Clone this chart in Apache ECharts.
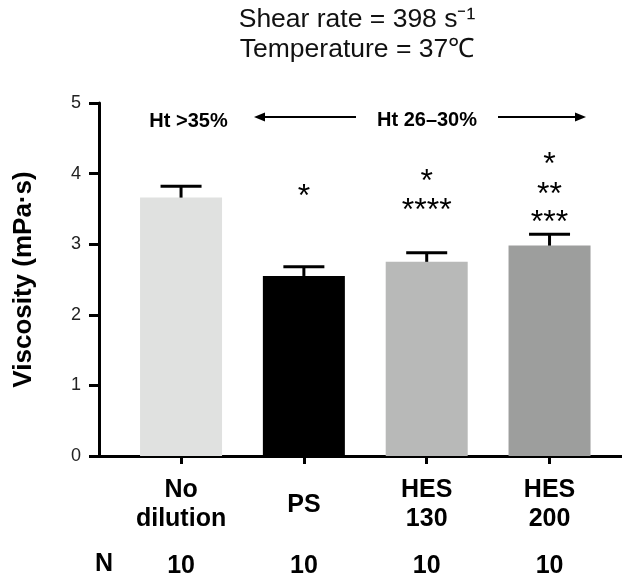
<!DOCTYPE html>
<html>
<head>
<meta charset="utf-8">
<script src="https://cdn.jsdelivr.net/npm/echarts@6/dist/echarts.min.js"></script>
<style>
html,body{margin:0;padding:0;background:#fff;}
#chart{width:622px;height:576px;}
</style>
</head>
<body>
<div id="chart"></div>
<script>
// ---- data ----
const categories = ['No\ndilution', 'PS', 'HES\n130', 'HES\n200'];
const means = [3.66, 2.55, 2.75, 2.98];
const sems = [0.16, 0.13, 0.13, 0.16];
const nValues = ['10', '10', '10', '10'];
const barColors = ['#e0e1e0', '#000000', '#b8b9b8', '#9d9e9d'];
const starTexts = [[], ['*'], ['*', '****'], ['*', '**', '***']];
const starLevels = [[], [3.76], [3.98, 3.57], [4.22, 3.80, 3.40]];
const titleLines = ['Shear rate = 398 s\u207B\u00B9', 'Temperature = 37\u2103'];
const htLabels = ['Ht >35%', 'Ht 26\u201330%'];
const yAxisName = 'Viscosity (mPa\u00B7s)';

const FONT = '"Liberation Sans", Arial, Helvetica, sans-serif';
const chart = echarts.init(document.getElementById('chart'), null, {renderer: 'canvas'});

const idx = categories.map((_, i) => i);
const barData = means.map((m, i) => ({value: [i, m], itemStyle: {color: barColors[i]}}));
const errData = means.map((m, i) => [i, m, m + sems[i]]);
const starData = [];
const starFlat = [];
starTexts.forEach((arr, i) => arr.forEach((t, j) => { starData.push([i, starLevels[i][j]]); starFlat.push(t); }));

const xMin = -0.668, xMax = 3.59;

const option = {
  animation: false,
  backgroundColor: '#fff',
  grid: {left: 99, right: 0, top: 103, bottom: 120, containLabel: false, outerBoundsMode: 'none'},
  xAxis: [{
    type: 'value', min: xMin, max: xMax,
    axisLine: {show: true, onZero: false, lineStyle: {color: '#000', width: 3}},
    axisTick: {show: true, customValues: idx, length: 8, lineStyle: {color: '#000', width: 3}},
    axisLabel: {
      show: true, customValues: idx, margin: 49, verticalAlign: 'middle',
      formatter: v => categories[Math.round(v)],
      fontFamily: FONT, fontSize: 25, fontWeight: 'bold', color: '#000', lineHeight: 29
    },
    splitLine: {show: false}
  }, {
    type: 'value', min: xMin, max: xMax, position: 'bottom', offset: 0,
    axisLine: {show: false, onZero: false}, axisTick: {show: false}, splitLine: {show: false},
    axisLabel: {
      show: true, customValues: idx, margin: 110, verticalAlign: 'middle',
      formatter: v => nValues[Math.round(v)],
      fontFamily: FONT, fontSize: 25, fontWeight: 'bold', color: '#000'
    }
  }],
  yAxis: {
    type: 'value', min: 0, max: 5, interval: 1,
    name: yAxisName, nameLocation: 'middle', nameGap: 62, nameRotate: 90,
    nameTextStyle: {fontFamily: FONT, fontSize: 26, fontWeight: 'bold', color: '#000'},
    axisLine: {show: true, onZero: false, lineStyle: {color: '#000', width: 3}},
    axisTick: {show: true, length: 10, lineStyle: {color: '#000', width: 3}},
    axisLabel: {margin: 18, fontFamily: FONT, fontSize: 18, color: '#222'},
    splitLine: {show: false}
  },
  series: [{
    type: 'bar', xAxisIndex: 0, data: barData, barWidth: 82, z: 2
  }, {
    type: 'custom', xAxisIndex: 0, data: errData, z: 3,
    renderItem: (params, api) => {
      const b = api.coord([api.value(0), api.value(1)]);
      const t = api.coord([api.value(0), api.value(2)]);
      const hw = 20.5;
      return {
        type: 'group',
        children: [
          {type: 'line', shape: {x1: b[0], y1: b[1], x2: t[0], y2: t[1]}, style: {stroke: '#000', lineWidth: 3}},
          {type: 'line', shape: {x1: t[0] - hw, y1: t[1], x2: t[0] + hw, y2: t[1]}, style: {stroke: '#000', lineWidth: 3}}
        ]
      };
    }
  }, {
    type: 'custom', xAxisIndex: 0, data: starData, z: 4,
    renderItem: (params, api) => {
      const p = api.coord([api.value(0), api.value(1)]);
      return {
        type: 'text', x: p[0], y: p[1] + 7,
        style: {text: starFlat[params.dataIndex], font: '32px ' + FONT, fill: '#000', align: 'center', verticalAlign: 'middle'}
      };
    }
  }],
  graphic: [
    {type: 'text', x: 357, y: 20, style: {text: titleLines[0], font: '26.5px ' + FONT, fill: '#111', align: 'center', verticalAlign: 'middle'}},
    {type: 'text', x: 357, y: 50, style: {text: titleLines[1], font: '26.5px ' + FONT, fill: '#111', align: 'center', verticalAlign: 'middle'}},
    {type: 'text', left: 95, top: 552, style: {text: 'N', font: 'bold 25px ' + FONT, fill: '#000'}},
    {type: 'text', x: 188.5, y: 121, style: {text: htLabels[0], font: 'bold 20px ' + FONT, fill: '#000', align: 'center', verticalAlign: 'middle'}},
    {type: 'text', x: 427, y: 120, style: {text: htLabels[1], font: 'bold 20px ' + FONT, fill: '#000', align: 'center', verticalAlign: 'middle'}},
    {type: 'line', shape: {x1: 262, y1: 117, x2: 356, y2: 117}, style: {stroke: '#000', lineWidth: 2}},
    {type: 'polygon', shape: {points: [[254, 117], [265, 112.5], [265, 121.5]]}, style: {fill: '#000'}},
    {type: 'line', shape: {x1: 498, y1: 117, x2: 578, y2: 117}, style: {stroke: '#000', lineWidth: 2}},
    {type: 'polygon', shape: {points: [[586, 117], [575, 112.5], [575, 121.5]]}, style: {fill: '#000'}}
  ]
};
chart.setOption(option);
</script>
</body>
</html>
